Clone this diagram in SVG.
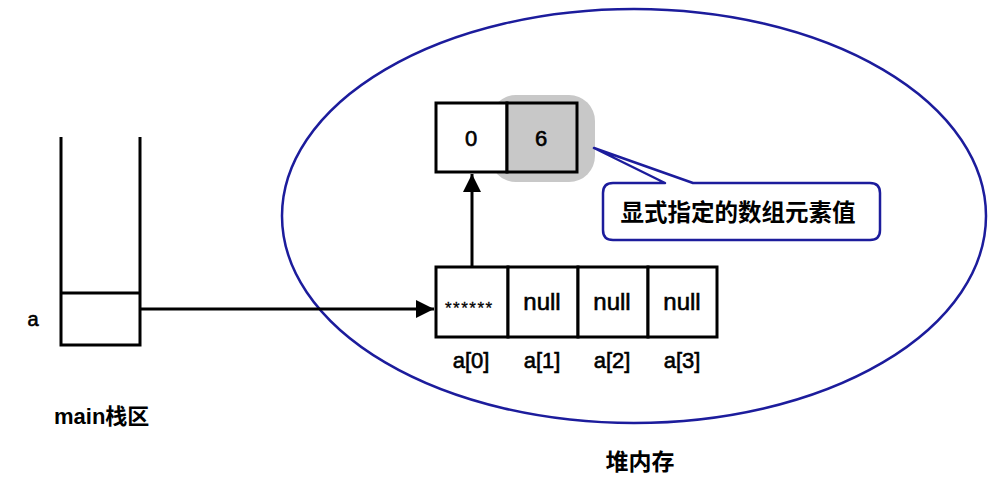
<svg xmlns="http://www.w3.org/2000/svg" width="992" height="478" viewBox="0 0 992 478">
<style>
.blk{fill:none;stroke:#000;stroke-width:3}
.cell{fill:#fff;stroke:#000;stroke-width:3}
.t{font-family:"Liberation Sans",Arial,sans-serif;fill:#000;stroke:#000;stroke-width:0.6}
.c{font-family:"Liberation Sans","Noto Sans CJK SC",sans-serif;font-weight:bold;fill:#000}
.blue{fill:none;stroke:#1c1c9c;stroke-width:2.5}
</style>
<defs>
<marker id="ah" viewBox="0 0 10 10" refX="10" refY="5" markerWidth="6" markerHeight="6" markerUnits="strokeWidth" orient="auto">
<path d="M0,0 L10,5 L0,10 z" fill="#000"/>
</marker>
</defs>
<rect width="992" height="478" fill="#fff"/>
<g id="heap">
<ellipse cx="634" cy="216" rx="352" ry="207" class="blue"/>
<text x="640" y="470" class="c" font-size="23" text-anchor="middle">堆内存</text>
</g>
<g id="stack">
<path d="M61,137 V345 H140 V137" class="blk"/>
<line x1="61" y1="293" x2="140" y2="293" class="blk"/>
<text x="33" y="326" class="t" font-size="20" text-anchor="middle">a</text>
<text x="54" y="424" class="c" font-size="22">main栈区</text>
</g>
<g id="highlight">
<rect x="490" y="95" width="105" height="87" rx="26" fill="#c8c8c8"/>
</g>
<g id="elem">
<rect x="436" y="103" width="71" height="69" class="cell"/>
<rect x="507" y="103" width="70" height="69" fill="#c8c8c8" stroke="#000" stroke-width="3"/>
<text x="471" y="146" class="t" font-size="22" text-anchor="middle">0</text>
<text x="541" y="146" class="t" font-size="22" text-anchor="middle">6</text>
</g>
<g id="array">
<rect x="436" y="267" width="72" height="70" class="cell"/>
<rect x="508" y="267" width="70" height="70" class="cell"/>
<rect x="578" y="267" width="70" height="70" class="cell"/>
<rect x="648" y="267" width="69" height="70" class="cell"/>
<text x="445" y="314" font-family="Liberation Sans,Arial,sans-serif" font-size="17" letter-spacing="1.5" fill="#000" stroke="#000" stroke-width="0.3">******</text>
<text x="542" y="310" class="t" font-size="24" text-anchor="middle">null</text>
<text x="612" y="310" class="t" font-size="24" text-anchor="middle">null</text>
<text x="682" y="310" class="t" font-size="24" text-anchor="middle">null</text>
<text x="471" y="368" class="t" font-size="22" text-anchor="middle">a[0]</text>
<text x="542" y="368" class="t" font-size="22" text-anchor="middle">a[1]</text>
<text x="612" y="368" class="t" font-size="22" text-anchor="middle">a[2]</text>
<text x="682" y="368" class="t" font-size="22" text-anchor="middle">a[3]</text>
</g>
<g id="callout">
<path d="M665,183 L594,148 L693,183 H870 Q880,183 880,193 V230 Q880,240 870,240 H613 Q603,240 603,230 V193 Q603,183 613,183 Z" fill="#fff" stroke="#1c1c9c" stroke-width="2.5" stroke-linejoin="round"/>
<text x="738" y="221" class="c" font-size="23.5" text-anchor="middle">显式指定的数组元素值</text>
</g>
<g id="connectors">
<line x1="140" y1="309" x2="434" y2="309" stroke="#000" stroke-width="3" marker-end="url(#ah)"/>
<line x1="472" y1="267" x2="472" y2="174" stroke="#000" stroke-width="3" marker-end="url(#ah)"/>
</g>
</svg>
